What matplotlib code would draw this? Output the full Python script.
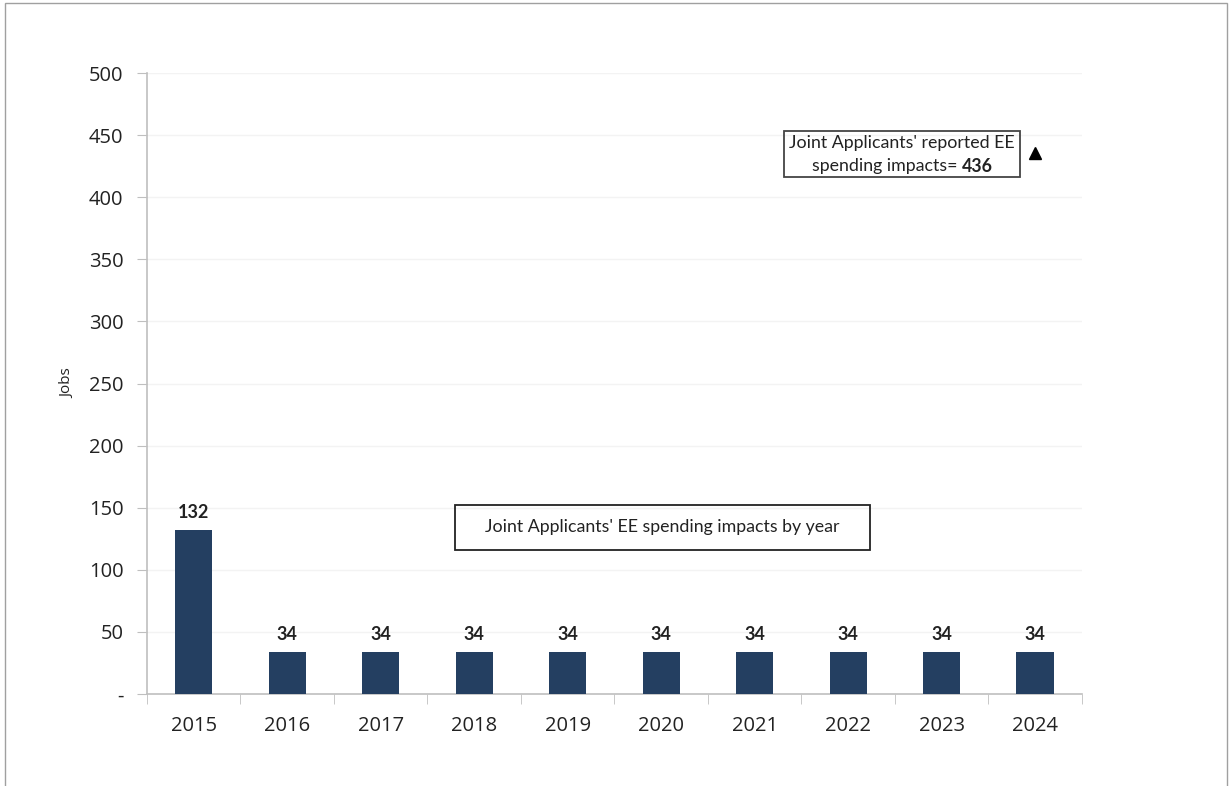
import matplotlib.pyplot as plt
from matplotlib.patches import Rectangle

years = ['2015', '2016', '2017', '2018', '2019', '2020', '2021', '2022', '2023', '2024']
jobs = [132, 34, 34, 34, 34, 34, 34, 34, 34, 34]
reported_total = 436
y_ticks = [0, 50, 100, 150, 200, 250, 300, 350, 400, 450, 500]
y_tick_labels = ['-', '50', '100', '150', '200', '250', '300', '350', '400', '450', '500']

bar_color = '#243f61'
axis_grey = '#bfbfbf'
note_font = ['Lato', 'DejaVu Sans']

plt.rcParams['font.family'] = ['Open Sans', 'DejaVu Sans']

fig = plt.figure(figsize=(12.32, 7.86), dpi=100)
ax = fig.add_axes([0.1193, 0.117, 0.7589, 0.790])

x = list(range(len(years)))
ax.bar(x, jobs, width=0.4, color=bar_color, zorder=3)

# value labels above each bar
for xi, v in zip(x, jobs):
    ax.text(xi, v + 7, str(v), ha='center', va='bottom', fontsize=13,
            fontweight='bold', color='#222222', family=note_font)

# reported total for comparison
ax.plot([len(years) - 1], [reported_total], marker='^', color='black',
        markersize=8, linestyle='none', zorder=4)

ax.set_xlim(-0.5, len(years) - 0.5)
ax.set_ylim(0, 500)
ax.set_yticks(y_ticks)
ax.set_yticklabels(y_tick_labels)
ax.set_xticks(x)
ax.set_xticklabels(years)
ax.set_xticks([i - 0.5 for i in range(len(years) + 1)], minor=True)

ax.tick_params(axis='y', length=7, color=axis_grey, labelsize=14.5,
               labelcolor='#222222', pad=10)
ax.tick_params(axis='x', which='major', length=0, labelsize=14.5,
               labelcolor='#222222', pad=16)
ax.tick_params(axis='x', which='minor', length=7, color=axis_grey)

ax.grid(axis='y', color='#f3f3f3', linewidth=1, zorder=0)
for side in ['top', 'right']:
    ax.spines[side].set_visible(False)
for side in ['left', 'bottom']:
    ax.spines[side].set_color(axis_grey)
    ax.spines[side].set_linewidth(1.2)

ax.set_ylabel('Jobs', fontsize=11, color='#222222', labelpad=10)

# callout boxes
box1 = Rectangle((784 / 1232, 1 - 177 / 786), 236 / 1232, 46 / 786,
                 transform=fig.transFigure, fill=False, edgecolor='#444444',
                 linewidth=1.3)
fig.patches.append(box1)
fig.text(902 / 1232, 1 - 143 / 786, "Joint Applicants' reported EE",
         ha='center', va='center', fontsize=12.8, color='#222222',
         family=note_font)

# second line: normal text followed by the bold total, centred together
renderer = fig.canvas.get_renderer()
part_a = fig.text(0, 1 - 166 / 786, "spending impacts= ", ha='left', va='center',
                  fontsize=12.8, color='#222222', family=note_font)
part_b = fig.text(0, 1 - 166 / 786, str(reported_total), ha='left', va='center',
                  fontsize=12.8, fontweight='bold', color='#222222',
                  family=note_font)
wa = part_a.get_window_extent(renderer).width
wb = part_b.get_window_extent(renderer).width
start = 902 - (wa + wb) / 2
part_a.set_x(start / 1232)
part_b.set_x((start + wa) / 1232)

box2 = Rectangle((455 / 1232, 1 - 550 / 786), 415 / 1232, 45 / 786,
                 transform=fig.transFigure, fill=False, edgecolor='#222222',
                 linewidth=1.3)
fig.patches.append(box2)
fig.text(662 / 1232, 1 - 527 / 786, "Joint Applicants' EE spending impacts by year",
         ha='center', va='center', fontsize=12.8, color='#222222',
         family=note_font)

# outer frame
frame = Rectangle((5 / 1232, -0.01), 1222 / 1232, 1 - 3 / 786 + 0.01,
                  transform=fig.transFigure, fill=False, edgecolor='#a0a0a0',
                  linewidth=1)
fig.patches.append(frame)

fig.savefig('out.png', dpi=100, facecolor='white')
